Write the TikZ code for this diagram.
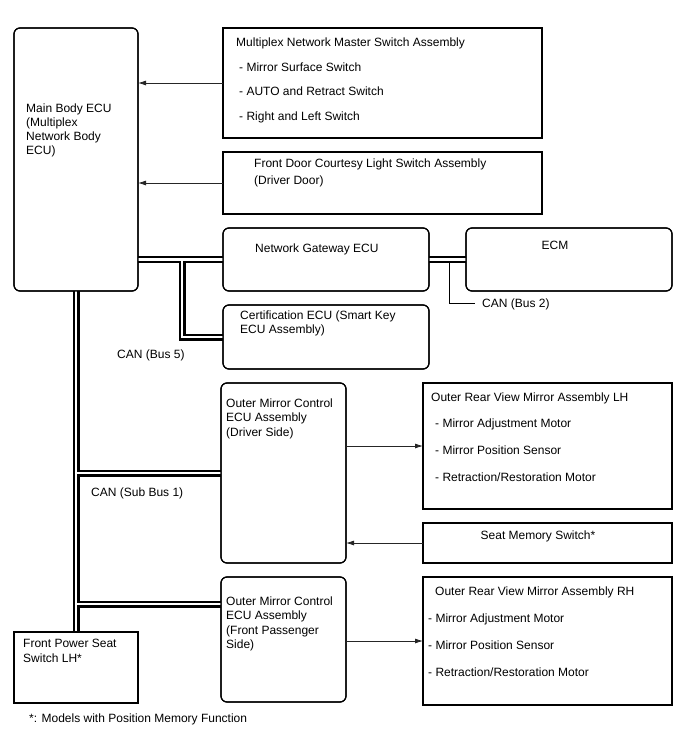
\documentclass[tikz,border=0pt]{standalone}
\usepackage{fontspec}
\setmainfont{Liberation Sans}
\usetikzlibrary{arrows.meta,calc}
\begin{document}
\begin{tikzpicture}[x=1pt,y=-1pt,
  box/.style={draw=black, line width=1.2pt, inner sep=0pt, outer sep=0pt, anchor=north west},
  rbox/.style={box, rounded corners=6pt},
  txt/.style={inner sep=0pt, anchor=base west, font=\fontsize{12}{14}\selectfont},
  ctxt/.style={txt, anchor=base},
  arr/.style={draw=black!85, line width=0.8pt, -{Latex[length=8pt,width=5pt]}},
  leader/.style={draw=black, line width=0.9pt},
  busout/.style={draw=black, line width=7pt},
  busin/.style={draw=white, line width=2.4pt}]
\useasboundingbox (0,0) rectangle (688,755);

% boxes (positions)
\path (14,28) node[rbox, minimum width=124pt, minimum height=263pt] (main) {};
\path (223,28) node[box, minimum width=319pt, minimum height=110pt] (master) {};
\path (223,152) node[box, minimum width=319pt, minimum height=62pt] (court) {};
\path (223,228) node[rbox, minimum width=206pt, minimum height=63pt] (gw) {};
\path (466,228) node[rbox, minimum width=206pt, minimum height=63pt] (ecm) {};
\path (223,305) node[rbox, minimum width=206pt, minimum height=64pt] (cert) {};
\path (221,383) node[rbox, minimum width=125pt, minimum height=180pt] (drv) {};
\path (423,383) node[box, minimum width=249pt, minimum height=126pt] (lh) {};
\path (423,523) node[box, minimum width=249pt, minimum height=40pt] (mem) {};
\path (221,577) node[rbox, minimum width=125pt, minimum height=125pt] (pas) {};
\path (423,577) node[box, minimum width=249pt, minimum height=128pt] (rh) {};
\path (14,632) node[box, minimum width=124pt, minimum height=71pt] (fps) {};

% bus coordinates
\coordinate (j1) at ($(main.east |- gw.west)+(44,0)$);
\coordinate (pj) at ($(pas.north west)+(0,27)$);
\coordinate (b2) at ($(gw.east)!0.55!(ecm.west)$);

% buses: outer black pass
\foreach \st in {busout,busin}{
  \draw[\st] (main.east |- gw.west) -- (gw.west);
  \draw[\st] (gw.east) -- (ecm.west);
  \draw[\st] (j1) |- (cert.west);
  \draw[\st] (main.south) -- (fps.north);
  \draw[\st] (main.south |- drv.west) -- (drv.west);
  \draw[\st] (main.south |- pj) -- (pj);
}

% redraw boxes on top
\foreach \n in {main,gw,ecm,cert,drv,pas}{
  \draw[line width=1.2pt, rounded corners=6pt] (\n.north west) rectangle (\n.south east);
}
\foreach \n in {master,court,lh,mem,rh,fps}{
  \draw[line width=1.2pt] (\n.north west) rectangle (\n.south east);
}

% texts
\node[txt] (tm1) at (26,112) {Main Body ECU};
\node[txt] (tm2) at (26,126) {(Multiplex};
\node[txt] (tm3) at (26,140) {Network Body};
\node[txt] (tm4) at (26,154) {ECU)};

\node[txt] (ts0) at (236,46) {Multiplex Network Master Switch Assembly};
\node[txt] (ts1) at (239,71) {- Mirror Surface Switch};
\node[txt] (ts2) at (239,95) {- AUTO and Retract Switch};
\node[txt] (ts3) at (239,120) {- Right and Left Switch};

\node[txt] (tc1) at (254,167) {Front Door Courtesy Light Switch Assembly};
\node[txt] (tc2) at (254,184) {(Driver Door)};

\node[txt] (tg) at (255,252) {Network Gateway ECU};
\node[ctxt] (te) at (555,249) {ECM};

\node[txt] (tce1) at (240,319) {Certification ECU (Smart Key};
\node[txt] (tce2) at (240,333) {ECU Assembly)};

\node[txt] (lb5) at (117,358) {CAN (Bus 5)};
\node[txt] (lb2) at (482,307) {CAN (Bus 2)};
\node[txt] (lsb) at (91,496) {CAN (Sub Bus 1)};

\node[txt] (td1) at (226,407) {Outer Mirror Control};
\node[txt] (td2) at (226,421) {ECU Assembly};
\node[txt] (td3) at (226,436) {(Driver Side)};

\node[txt] (tl0) at (431,401) {Outer Rear View Mirror Assembly LH};
\node[txt] (tl1) at (435,427) {- Mirror Adjustment Motor};
\node[txt] (tl2) at (435,454) {- Mirror Position Sensor};
\node[txt] (tl3) at (435,481) {- Retraction/Restoration Motor};

\node[ctxt] (tms) at (538,539) {Seat Memory Switch*};

\node[txt] (tp1) at (226,605) {Outer Mirror Control};
\node[txt] (tp2) at (226,619) {ECU Assembly};
\node[txt] (tp3) at (226,634) {(Front Passenger};
\node[txt] (tp4) at (226,648) {Side)};

\node[txt] (tr0) at (435,595) {Outer Rear View Mirror Assembly RH};
\node[txt] (tr1) at (428,622) {- Mirror Adjustment Motor};
\node[txt] (tr2) at (428,649) {- Mirror Position Sensor};
\node[txt] (tr3) at (428,676) {- Retraction/Restoration Motor};

\node[txt] (tf1) at (23,647) {Front Power Seat};
\node[txt] (tf2) at (23,662) {Switch LH*};

\node[txt] (fn) at (29,722) {*: Models with Position Memory Function};

% leader for CAN (Bus 2)
\draw[leader] ($(b2)+(0,3.6)$) |- ($(lb2.west)+(-7,0)$);

% arrows
\draw[arr] (master.west) -- (main.east |- master.west);
\draw[arr] (court.west) -- (main.east |- court.west);
\draw[arr] (drv.east |- lh.west) -- (lh.west);
\draw[arr] (mem.west) -- (drv.east |- mem.west);
\draw[arr] (pas.east |- rh.west) -- (rh.west);
\end{tikzpicture}
\end{document}
